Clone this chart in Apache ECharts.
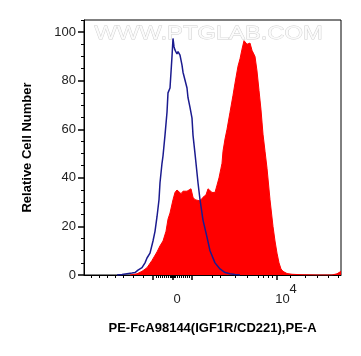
<!DOCTYPE html>
<html>
<head>
<meta charset="utf-8">
<script src="https://cdn.jsdelivr.net/npm/echarts@6/dist/echarts.min.js"></script>
<style>
  html, body { margin: 0; padding: 0; background: #fff; }
  #chart-container { width: 361px; height: 356px; }
</style>
</head>
<body>
<div id="chart-container"></div>
<script>
// x is in display channels: 0 -> "0", 100 -> "10^4"
const redX = [-47, -40, -35, -30, -25, -20, -17, -14, -11, -9, -7, -5, -4, -2, 0, 2, 4, 6, 8, 10, 12, 14, 16, 18, 20, 23, 26, 29, 31, 33, 35, 38, 40, 42, 44, 45, 46, 48, 50, 53, 56, 58, 61, 63, 65, 67, 68, 70, 71, 73, 75, 77, 78, 80, 82, 84, 86, 88, 90, 93, 96, 98, 100, 102, 104, 106, 110, 115, 125, 140, 155, 160, 164];
const redY = [0, 0.5, 1.5, 3, 6, 9.5, 12, 14, 18, 23, 25.5, 26, 31, 34, 35, 35.5, 33.5, 34.5, 35, 34.5, 34, 35.5, 32, 31, 31, 30.5, 32, 33, 35.5, 36, 34, 34, 37, 40, 44, 46, 51, 56, 60, 67, 74, 79, 86, 89, 93, 96.5, 97, 95, 94.5, 95.5, 92.5, 93, 90, 84, 76, 68, 58, 51, 44, 31, 20, 14, 9, 5, 2.5, 1.5, 0.6, 0.3, 0.1, 0, 0, 0.5, 1.5];

const blueX = [-60, -55, -50, -45, -42, -39, -35, -32, -30, -27, -24, -22, -20, -18, -17, -15, -14, -12, -10, -9, -7, -5, -4, -3, -2, 0, 1, 3, 5, 6, 8, 10, 11, 13, 15, 16, 18, 19, 21, 23, 26, 30, 33, 38, 43, 48, 53, 58, 63];
const blueY = [0, 0.2, 0.5, 0.8, 1, 2, 3, 5, 7, 9, 14, 18, 24, 31, 38, 46, 49, 57.6, 67, 75, 77, 90, 97.4, 94, 92.6, 91, 92, 90.5, 86.4, 83.5, 83, 77, 73, 69, 64.6, 57.6, 50, 46, 38, 31, 22.6, 15.6, 10, 5, 2.5, 1, 0.5, 0.2, 0];

const yMajor = [0, 20, 40, 60, 80, 100];
const yMinor = [5, 10, 15, 25, 30, 35, 45, 50, 55, 65, 70, 75, 85, 90, 95, 105];
const xMinor = [-86, -78, -70, -62, -54, -44, -34, -21, -19, -17, -15, -13, -11, -9, -7, -6, -5, -4, -3, -2, 0, 2, 4, 6, 8, 10, 12, 35, 43, 58, 70, 81, 86, 91, 95, 113, 128, 140, 151, 161];
const xMajor = [-24, -4, 15, 100];
const xLabels = [0, 100];

var dom = document.getElementById("chart-container");
var myChart = echarts.init(dom, null, { renderer: "canvas" });

const toPairs = (xs, ys) => xs.map((x, i) => [x, ys[i]]);

var option = {
  animation: false,
  backgroundColor: "#fff",
  grid: {
    left: 84, right: 20, top: 20, bottom: 81,
    show: true, borderColor: "#000", borderWidth: 1
  },
  graphic: [
    {
      type: "text",
      left: 94,
      top: 24,
      scaleX: 1.25,
      style: {
        text: "WWW.PTGLAB.COM",
        font: "19px 'Liberation Sans', sans-serif",
        fill: "#fbfbfb",
        stroke: "#cfcfcf",
        lineWidth: 0.8
      },
      z: 0
    }
  ],
  xAxis: [
    {
      type: "value", min: -93, max: 164,
      axisLine: { show: true, onZero: false, lineStyle: { color: "#000", width: 1 } },
      axisTick: { show: true, customValues: xMinor, length: 3, lineStyle: { color: "#000" } },
      axisLabel: { show: false },
      splitLine: { show: false },
      name: "PE-FcA98144(IGF1R/CD221),PE-A",
      nameLocation: "middle",
      nameGap: 47,
      nameTextStyle: { fontFamily: "Liberation Sans", fontWeight: "bold", fontSize: 13, color: "#000" }
    },
    {
      type: "value", min: -93, max: 164, position: "bottom",
      axisLine: { show: false, onZero: false },
      axisTick: { show: true, customValues: xMajor, length: 5, lineStyle: { color: "#000", width: 1.5 } },
      axisLabel: {
        show: true,
        customValues: xLabels,
        margin: 8,
        formatter: v => v === 0 ? "{z|0}" : "{p|10}{s|4}",
        rich: {
          z: { fontFamily: "Liberation Sans", fontSize: 13, color: "#222", padding: [10, 0, 0, 0] },
          p: { fontFamily: "Liberation Sans", fontSize: 13, color: "#222", padding: [10, 0, 0, 18], verticalAlign: "bottom" },
          s: { fontFamily: "Liberation Sans", fontSize: 13, color: "#222", padding: [0, 0, 10, 0], verticalAlign: "top" }
        }
      },
      splitLine: { show: false }
    }
  ],
  yAxis: [
    {
      type: "value", min: 0, max: 105,
      axisLine: { show: true, onZero: false, lineStyle: { color: "#000", width: 1 } },
      axisTick: { show: true, customValues: yMajor, length: 6, lineStyle: { color: "#000", width: 1.5 } },
      axisLabel: { customValues: yMajor, margin: 8, fontFamily: "Liberation Sans", fontSize: 13, color: "#222" },
      splitLine: { show: false },
      name: "Relative Cell Number",
      nameLocation: "middle",
      nameGap: 50,
      nameTextStyle: { fontFamily: "Liberation Sans", fontWeight: "bold", fontSize: 13, color: "#000" }
    },
    {
      type: "value", min: 0, max: 105, position: "left",
      axisLine: { show: false, onZero: false },
      axisTick: { show: true, customValues: yMinor, length: 3, lineStyle: { color: "#000" } },
      axisLabel: { show: false },
      splitLine: { show: false }
    }
  ],
  series: [
    {
      type: "line",
      data: toPairs(redX, redY),
      symbol: "none",
      lineStyle: { color: "#ff0000", width: 1 },
      areaStyle: { color: "#ff0000", opacity: 1 },
      z: 2
    },
    {
      type: "line",
      data: toPairs(blueX, blueY),
      symbol: "none",
      lineStyle: { color: "#1b1b8f", width: 1.5 },
      z: 3
    }
  ]
};

myChart.setOption(option);
window.addEventListener("resize", myChart.resize);
</script>
</body>
</html>
